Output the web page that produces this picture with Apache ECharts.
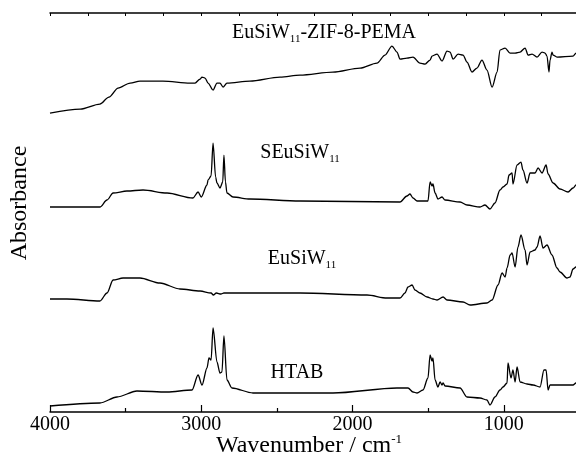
<!DOCTYPE html>
<html>
<head>
<meta charset="utf-8">
<script src="https://cdn.jsdelivr.net/npm/echarts@6/dist/echarts.min.js"></script>
<style>
  html, body { margin: 0; padding: 0; background: #fff; }
  #chart { width: 576px; height: 459px; }
</style>
</head>
<body>
<div id="chart"></div>
<script>
// FTIR spectra, [wavenumber, absorbance (offset)]
const pemaSpectrum = [
  [4000, 2.99], [3800, 3.03], [3670, 3.08], [3610, 3.15], [3550, 3.24], [3470, 3.29],
  [3405, 3.31], [3253, 3.31], [3074, 3.29],
  [3041, 3.29], [3008, 3.33], [2995, 3.35], [2975, 3.34], [2955, 3.29], [2922, 3.22],
  [2896, 3.29], [2876, 3.29], [2856, 3.25], [2830, 3.29], [2678, 3.31], [2479, 3.35],
  [2347, 3.37], [2129, 3.40], [1950, 3.44], [1838, 3.49], [1785, 3.57], [1739, 3.66],
  [1706, 3.60], [1686, 3.53], [1640, 3.54], [1600, 3.55], [1554, 3.49], [1520, 3.48],
  [1487, 3.52], [1474, 3.56], [1441, 3.58], [1408, 3.51], [1375, 3.61], [1355, 3.60],
  [1335, 3.53], [1302, 3.58], [1269, 3.57], [1243, 3.50], [1210, 3.40], [1177, 3.44],
  [1144, 3.52], [1111, 3.42], [1077, 3.25], [1044, 3.40], [1025, 3.62], [991, 3.64],
  [958, 3.59], [925, 3.59], [892, 3.60], [859, 3.64], [839, 3.57], [813, 3.58],
  [780, 3.55], [747, 3.60], [727, 3.59], [714, 3.56], [701, 3.40], [694, 3.52],
  [681, 3.60], [674, 3.57], [648, 3.55], [542, 3.56], [522, 3.59], [500, 3.60]
];
const seusiwSpectrum = [
  [4000, 2.05], [3670, 2.05], [3623, 2.12], [3583, 2.19], [3491, 2.21], [3385, 2.22],
  [3226, 2.19], [3055, 2.14], [3021, 2.20], [3000, 2.15], [2962, 2.27], [2955, 2.32],
  [2935, 2.36], [2922, 2.69], [2905, 2.35], [2896, 2.29], [2876, 2.24], [2858, 2.30],
  [2850, 2.57], [2840, 2.30], [2830, 2.19], [2790, 2.15], [2678, 2.13], [2347, 2.11],
  [1686, 2.10], [1640, 2.16], [1620, 2.18], [1600, 2.14], [1573, 2.11], [1501, 2.11],
  [1487, 2.30], [1474, 2.26], [1468, 2.28], [1454, 2.19], [1435, 2.13], [1408, 2.15],
  [1388, 2.12], [1289, 2.10], [1243, 2.07], [1157, 2.05], [1124, 2.07], [1091, 2.03],
  [1058, 2.09], [1025, 2.22], [1005, 2.25], [978, 2.28], [965, 2.37], [945, 2.39],
  [939, 2.28], [912, 2.47], [886, 2.50], [873, 2.42], [846, 2.29], [826, 2.39],
  [793, 2.39], [773, 2.44], [747, 2.39], [720, 2.47], [707, 2.38], [674, 2.29],
  [628, 2.23], [575, 2.20], [542, 2.24], [522, 2.27], [500, 2.28]
];
const eusiwSpectrum = [
  [4000, 1.13], [3888, 1.13], [3670, 1.11], [3623, 1.19], [3583, 1.32], [3517, 1.34],
  [3405, 1.34], [3273, 1.29], [3141, 1.23], [3008, 1.21], [2935, 1.19], [2920, 1.17],
  [2900, 1.19], [2870, 1.18], [2850, 1.19], [2347, 1.19], [1904, 1.17], [1772, 1.14],
  [1686, 1.14], [1653, 1.19], [1633, 1.25], [1606, 1.27], [1587, 1.22], [1554, 1.19],
  [1507, 1.15], [1468, 1.13], [1441, 1.12], [1401, 1.15], [1375, 1.12], [1269, 1.10],
  [1223, 1.07], [1111, 1.09], [1077, 1.12], [1038, 1.27], [1011, 1.39], [991, 1.35],
  [978, 1.44], [958, 1.57], [945, 1.59], [925, 1.45], [906, 1.65], [886, 1.77],
  [859, 1.62], [846, 1.47], [826, 1.60], [793, 1.62], [780, 1.65], [760, 1.76],
  [740, 1.64], [714, 1.67], [681, 1.57], [648, 1.44], [628, 1.40], [582, 1.34],
  [562, 1.35], [542, 1.43], [522, 1.45], [500, 1.46]
];
const htabSpectrum = [
  [4000, 0.06], [3670, 0.09], [3557, 0.15], [3425, 0.21], [3226, 0.20], [3061, 0.22],
  [3021, 0.37], [2995, 0.27], [2962, 0.44], [2949, 0.54], [2935, 0.52], [2922, 0.84],
  [2896, 0.50], [2876, 0.39], [2863, 0.40], [2850, 0.76], [2830, 0.32], [2797, 0.24],
  [2658, 0.19], [2129, 0.19], [1706, 0.24], [1633, 0.24], [1600, 0.20], [1573, 0.19],
  [1534, 0.22], [1501, 0.34], [1487, 0.57], [1474, 0.51], [1468, 0.54], [1454, 0.32],
  [1435, 0.25], [1421, 0.30], [1408, 0.27], [1401, 0.29], [1388, 0.26], [1289, 0.24],
  [1243, 0.15], [1157, 0.14], [1111, 0.12], [1091, 0.07], [1058, 0.15], [1025, 0.22],
  [1005, 0.25], [978, 0.29], [972, 0.49], [952, 0.34], [939, 0.42], [925, 0.30],
  [912, 0.45], [892, 0.30], [846, 0.28], [806, 0.27], [760, 0.25], [734, 0.42],
  [720, 0.42], [707, 0.22], [694, 0.27], [648, 0.27], [542, 0.27], [522, 0.29], [500, 0.29]
];
const spectra = [pemaSpectrum, seusiwSpectrum, eusiwSpectrum, htabSpectrum];

const FONT = '"Liberation Serif", "DejaVu Serif", serif';
const chart = echarts.init(document.getElementById('chart'));

const axisLine = { show: true, lineStyle: { color: '#000', width: 1.5 } };

const label = (text, x, y) => ({
    type: 'text',
    x: x, y: y,
    style: {
        text: text,
        align: 'center',
        verticalAlign: 'middle',
        fill: '#000',
        rich: {
            m: { fontSize: 20, fontFamily: FONT, lineHeight: 24, fill: '#000' },
            s: { fontSize: 11, fontFamily: FONT, lineHeight: 11, verticalAlign: 'bottom', fill: '#000' }
        }
    }
});

const option = {
    animation: false,
    backgroundColor: '#fff',
    // the plot runs on past the right edge of the picture (down to 0 cm-1)
    grid: { left: 50, top: 13, right: -79, bottom: 47, outerBoundsMode: 'none', containLabel: false },
    xAxis: [
        {
            type: 'value',
            inverse: true,
            min: 0,
            max: 4000,
            interval: 1000,
            position: 'bottom',
            axisLine: axisLine,
            axisTick: { inside: true, length: 7, lineStyle: { color: '#000', width: 1.2 } },
            minorTick: { show: true, splitNumber: 2, length: 4, lineStyle: { color: '#000', width: 1.2 } },
            axisLabel: { color: '#000', fontSize: 20, fontFamily: FONT, margin: 3, formatter: v => String(v) },
            splitLine: { show: false }
        },
        {
            type: 'value',
            inverse: true,
            min: 0,
            max: 4000,
            interval: 250,
            position: 'top',
            axisLine: axisLine,
            axisTick: { inside: true, length: 3, lineStyle: { color: '#000', width: 1 } },
            axisLabel: { show: false },
            splitLine: { show: false }
        }
    ],
    yAxis: {
        type: 'value',
        min: 0,
        max: 3.9904,
        interval: 0.1247,
        axisLine: axisLine,
        axisTick: { inside: true, length: 2, lineStyle: { color: '#000', width: 1 } },
        axisLabel: { show: false },
        splitLine: { show: false }
    },
    series: spectra.map(d => ({
        type: 'line',
        data: d,
        showSymbol: false,
        smooth: 0.3,
        smoothMonotone: 'x',
        lineStyle: { color: '#000', width: 1.3 },
        clip: true
    })),
    graphic: [
        label('{m|EuSiW}{s|11}{m|-ZIF-8-PEMA}', 324, 33),
        label('{m|SEuSiW}{s|11}', 300, 153),
        label('{m|EuSiW}{s|11}', 302, 259),
        label('{m|HTAB}', 297, 373),
        {
            type: 'text',
            x: 309, y: 446,
            style: {
                text: '{m|Wavenumber / cm}{p|-1}',
                align: 'center',
                verticalAlign: 'middle',
                rich: {
                    m: { fontSize: 24, fontFamily: FONT, lineHeight: 26, fill: '#000' },
                    p: { fontSize: 13, fontFamily: FONT, lineHeight: 13, verticalAlign: 'top', fill: '#000' }
                }
            }
        },
        {
            type: 'text',
            x: 20, y: 203,
            rotation: Math.PI / 2,
            style: {
                text: 'Absorbance',
                align: 'center',
                verticalAlign: 'middle',
                fontSize: 24,
                fontFamily: FONT,
                fill: '#000'
            }
        }
    ]
};

chart.setOption(option);
</script>
</body>
</html>
